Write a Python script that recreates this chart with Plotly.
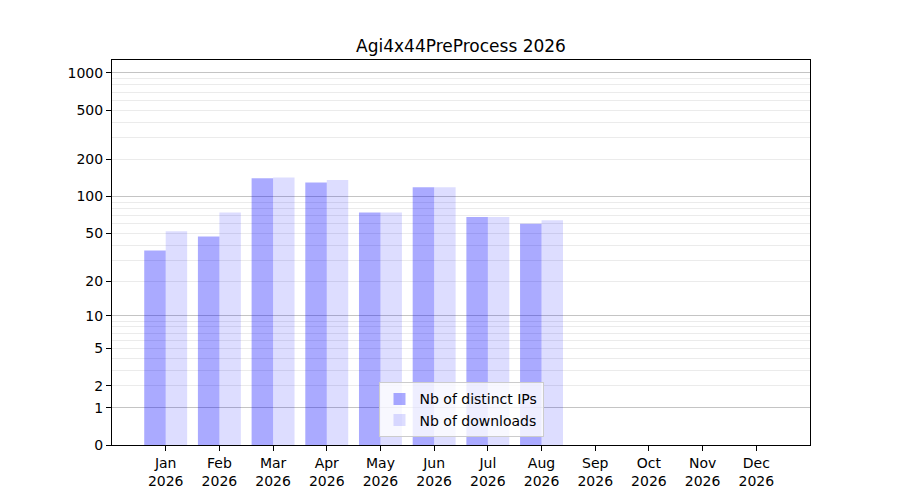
import math
import plotly.graph_objects as go

months = ["Jan", "Feb", "Mar", "Apr", "May", "Jun", "Jul", "Aug", "Sep", "Oct", "Nov", "Dec"]
year = "2026"
distinct_ips = [36, 47, 141, 130, 74, 119, 68, 60]
downloads = [52, 74, 143, 136, 74, 119, 68, 64]
y_tick_values = [0, 1, 2, 5, 10, 20, 50, 100, 200, 500, 1000]
y_major_grid = [1, 10, 100, 1000]
y_minor_grid = [2, 3, 4, 5, 6, 7, 8, 9, 20, 30, 40, 50, 60, 70, 80, 90,
                200, 300, 400, 500, 600, 700, 800, 900]
title = "Agi4x44PreProcess 2026"


def tr(v):
    # symlog-like scale: log10(1 + v)
    return math.log10(1 + v)


x_idx = list(range(len(months)))
tick_text = [f"{m}<br>{year}" for m in months]

fig = go.Figure()
fig.add_trace(go.Bar(
    x=x_idx[:len(distinct_ips)], y=[tr(v) for v in distinct_ips],
    width=0.4, offset=-0.4, name="Nb of distinct IPs",
    marker=dict(color="rgba(0,0,255,0.333)", line=dict(width=0)),
    customdata=distinct_ips, hovertemplate="%{customdata}<extra></extra>",
))
fig.add_trace(go.Bar(
    x=x_idx[:len(downloads)], y=[tr(v) for v in downloads],
    width=0.4, offset=0.0, name="Nb of downloads",
    marker=dict(color="rgba(0,0,255,0.133)", line=dict(width=0)),
    customdata=downloads, hovertemplate="%{customdata}<extra></extra>",
))
# invisible trace to activate secondary y-axis for major grid
fig.add_trace(go.Scatter(x=[0], y=[0], yaxis="y2", mode="markers",
                         marker=dict(opacity=0), showlegend=False, hoverinfo="skip"))

yrange = [0, 3.105]
font = "DejaVu Sans, Arial, sans-serif"

fig.update_layout(
    width=900, height=500,
    margin=dict(l=104, r=98, t=52, b=63),
    paper_bgcolor="white", plot_bgcolor="white",
    barmode="overlay",
    font=dict(family=font, size=14, color="black"),
    title=dict(text=title, x=453 / 900, xanchor="center", y=1 - 38 / 500, yanchor="middle",
               font=dict(size=17, color="black")),
    xaxis=dict(
        range=[-1, 12], tickvals=x_idx, ticktext=tick_text,
        showgrid=False, zeroline=False,
        showline=True, linecolor="black", linewidth=1, mirror=True,
        ticks="outside", ticklen=5, tickcolor="black",
    ),
    yaxis=dict(
        range=yrange, tickvals=[tr(v) for v in y_tick_values],
        ticktext=[str(v) for v in y_tick_values],
        showgrid=False, zeroline=False,
        showline=True, linecolor="black", linewidth=1, mirror=True,
        ticks="outside", ticklen=5, tickcolor="black",
        minor=dict(tickvals=[tr(v) for v in y_minor_grid], showgrid=True,
                   gridcolor="#ebebeb", gridwidth=1, ticks=""),
    ),
    yaxis2=dict(
        range=yrange, overlaying="y", side="left",
        tickvals=[tr(v) for v in y_major_grid], showticklabels=False,
        showgrid=True, gridcolor="#c4c4c4", gridwidth=1, zeroline=False,
        ticks="", showline=False,
    ),
    legend=dict(
        x=0.5, y=0.02, xanchor="center", yanchor="bottom",
        bgcolor="rgba(255,255,255,0.8)", bordercolor="#cccccc", borderwidth=1,
        font=dict(size=14), tracegroupgap=0,
    ),
    showlegend=True,
)

fig.write_html("out.html")
